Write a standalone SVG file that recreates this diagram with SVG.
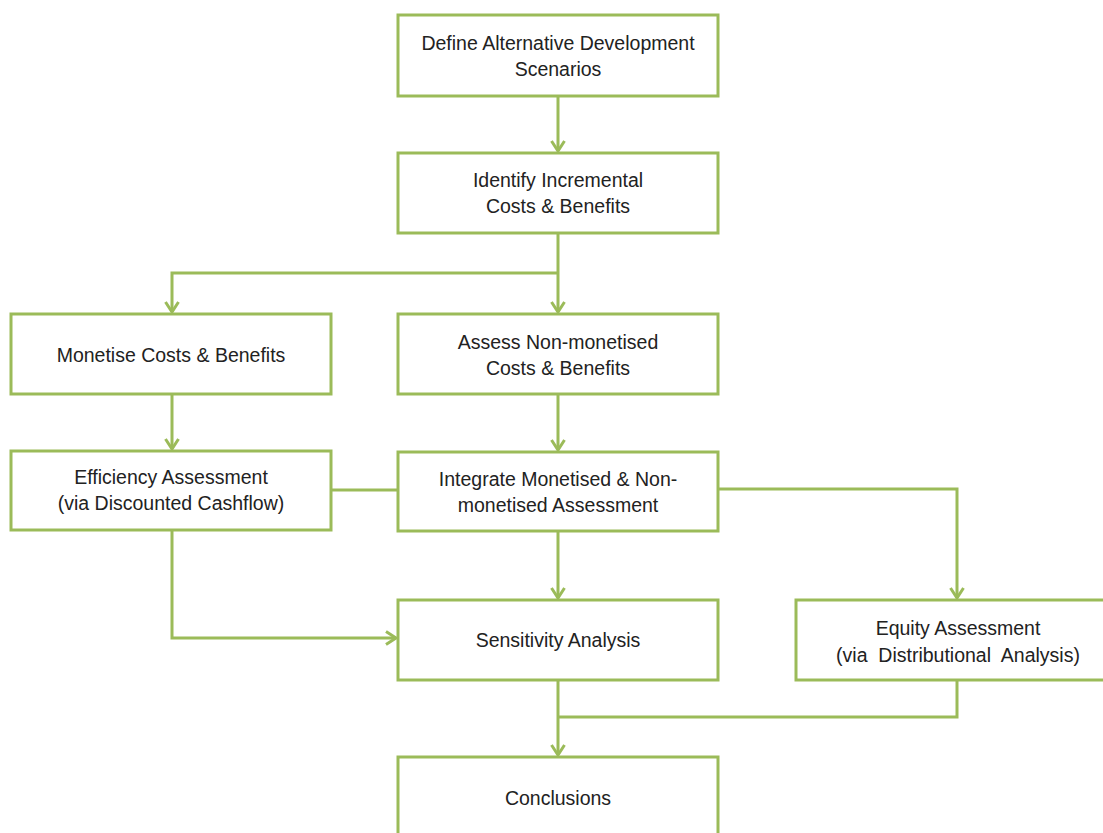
<svg xmlns="http://www.w3.org/2000/svg" width="1103" height="833" viewBox="0 0 1103 833">
<defs>
<marker id="ah" markerWidth="16" markerHeight="16" viewBox="0 0 16 16" refX="13" refY="8" orient="auto" markerUnits="userSpaceOnUse">
<polyline points="3,1.5 13,8 3,14.5" fill="none" stroke="#9BBB59" stroke-width="3"/>
</marker>
</defs>
<style>
.box{fill:#fff;stroke:#9BBB59;stroke-width:3}
.lbl{font-family:"Liberation Sans",Arial,sans-serif;font-size:19.5px;fill:#222;text-anchor:middle;dominant-baseline:central}
.c{fill:none;stroke:#9BBB59;stroke-width:3}
</style>
<rect width="1103" height="833" fill="#fff"/>
<g id="connectors">
<path class="c" d="M558,96 V151" marker-end="url(#ah)"/>
<path class="c" d="M558,233 V312" marker-end="url(#ah)"/>
<path class="c" d="M558,273 H172 V312" marker-end="url(#ah)"/>
<path class="c" d="M172,394 V449" marker-end="url(#ah)"/>
<path class="c" d="M558,394 V450" marker-end="url(#ah)"/>
<path class="c" d="M331,490 H398"/>
<path class="c" d="M718,489 H957 V598" marker-end="url(#ah)"/>
<path class="c" d="M558,531 V598" marker-end="url(#ah)"/>
<path class="c" d="M172,530 V638 H396" marker-end="url(#ah)"/>
<path class="c" d="M957,680 V717 H558"/>
<path class="c" d="M558,680 V755" marker-end="url(#ah)"/>
</g>
<g id="n1"><rect class="box" x="398" y="15" width="320" height="81"/><text class="lbl" x="558" y="43">Define Alternative Development</text><text class="lbl" x="558" y="69">Scenarios</text></g>
<g id="n2"><rect class="box" x="398" y="153" width="320" height="80"/><text class="lbl" x="558" y="180">Identify Incremental</text><text class="lbl" x="558" y="206">Costs &amp; Benefits</text></g>
<g id="n3"><rect class="box" x="11" y="314" width="320" height="80"/><text class="lbl" x="171" y="355">Monetise Costs &amp; Benefits</text></g>
<g id="n4"><rect class="box" x="398" y="314" width="320" height="80"/><text class="lbl" x="558" y="342">Assess Non-monetised</text><text class="lbl" x="558" y="368">Costs &amp; Benefits</text></g>
<g id="n5"><rect class="box" x="11" y="451" width="320" height="79"/><text class="lbl" x="171" y="477">Efficiency Assessment</text><text class="lbl" x="171" y="503">(via Discounted Cashflow)</text></g>
<g id="n6"><rect class="box" x="398" y="452" width="320" height="79"/><text class="lbl" x="558" y="479">Integrate Monetised &amp; Non-</text><text class="lbl" x="558" y="505">monetised Assessment</text></g>
<g id="n7"><rect class="box" x="398" y="600" width="320" height="80"/><text class="lbl" x="558" y="640">Sensitivity Analysis</text></g>
<g id="n8"><rect class="box" x="796" y="600" width="320" height="80"/><text class="lbl" x="958" y="628">Equity Assessment</text><text class="lbl" x="958" y="655" style="white-space:pre">(via  Distributional  Analysis)</text></g>
<g id="n9"><rect class="box" x="398" y="757" width="320" height="90"/><text class="lbl" x="558" y="798">Conclusions</text></g>
</svg>
